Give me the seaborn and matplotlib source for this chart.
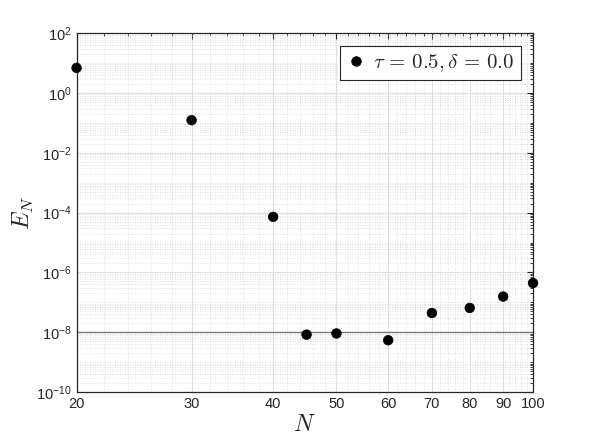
import numpy as np
import pandas as pd
import matplotlib
matplotlib.use("Agg")
import matplotlib.pyplot as plt
import matplotlib.ticker as mticker
import seaborn as sns

N_values = [20, 30, 40, 45, 50, 60, 70, 80, 90, 100]
E_values = [6.9, 0.123, 7.2e-5, 8.3e-9, 9.1e-9, 5.4e-9, 4.4e-8, 6.5e-8, 1.56e-7, 4.4e-7]
x_ticks = [20, 30, 40, 50, 60, 70, 80, 90, 100]
y_ticks = [1e-10, 1e-8, 1e-6, 1e-4, 1e-2, 1e0, 1e2]
ref_level = 1e-8
legend_label = r"$\tau\,=\,0.5, \delta\,=\,0.0$"

sns.set_style("white")
plt.rcParams["font.family"] = ["Liberation Sans", "DejaVu Sans"]

df = pd.DataFrame({"N": N_values, "E": E_values, "label": legend_label})

fig = plt.figure(figsize=(5.89, 4.42), dpi=100)
ax = fig.add_axes([0.130, 0.113, 0.775, 0.812])

ax.set_xscale("log")
ax.set_yscale("log")
ax.set_xlim(20, 100)
ax.set_ylim(1e-10, 1e2)

ax.axhline(ref_level, color="#7a7a7a", lw=1.0, zorder=2)

sns.scatterplot(data=df, x="N", y="E", hue="label", palette=["black"],
                s=48, edgecolor="black", linewidth=0.5, ax=ax, zorder=3, clip_on=False)

ax.xaxis.set_major_locator(mticker.FixedLocator(x_ticks))
ax.xaxis.set_major_formatter(mticker.FixedFormatter([str(v) for v in x_ticks]))
ax.xaxis.set_minor_locator(mticker.FixedLocator([v for v in range(20, 101, 2) if v not in x_ticks]))
ax.xaxis.set_minor_formatter(mticker.NullFormatter())

ax.yaxis.set_major_locator(mticker.FixedLocator(y_ticks))
ax.yaxis.set_major_formatter(mticker.LogFormatterSciNotation())
minor_y = [m * 10.0**e for e in range(-10, 2) for m in range(1, 10)]
minor_y = [v for v in minor_y if not any(abs(v / t - 1) < 1e-6 for t in y_ticks)]
ax.yaxis.set_minor_locator(mticker.FixedLocator(minor_y))
ax.yaxis.set_minor_formatter(mticker.NullFormatter())

ax.grid(True, which="major", color="#e0e0e0", lw=0.8, ls="-", zorder=0)
ax.grid(True, which="minor", color="#d8d8d8", lw=0.6, ls=(0, (1, 2)), zorder=0)
ax.set_axisbelow(True)

ax.tick_params(which="both", direction="in", top=True, right=True, colors="#262626",
               labelcolor="#262626", labelsize=10.5)
ax.tick_params(which="major", length=4, width=0.8)
ax.tick_params(which="minor", length=2.2, width=0.6)
for sp in ax.spines.values():
    sp.set_color("#262626")
    sp.set_linewidth(0.9)

ax.set_xlabel(r"$N$", fontsize=17, math_fontfamily="cm", color="#262626", labelpad=2)
ax.set_ylabel(r"$E_N$", fontsize=17, math_fontfamily="cm", color="#262626", labelpad=0)

leg = ax.legend(loc="upper right", frameon=True, fancybox=False,
                borderaxespad=0.6, handletextpad=0.3, handlelength=1.0,
                borderpad=0.3, prop={"size": 15, "math_fontfamily": "cm"})
leg.get_frame().set_edgecolor("#262626")
leg.get_frame().set_linewidth(0.8)
leg.get_frame().set_alpha(1)

fig.savefig("out.png", dpi=100)
